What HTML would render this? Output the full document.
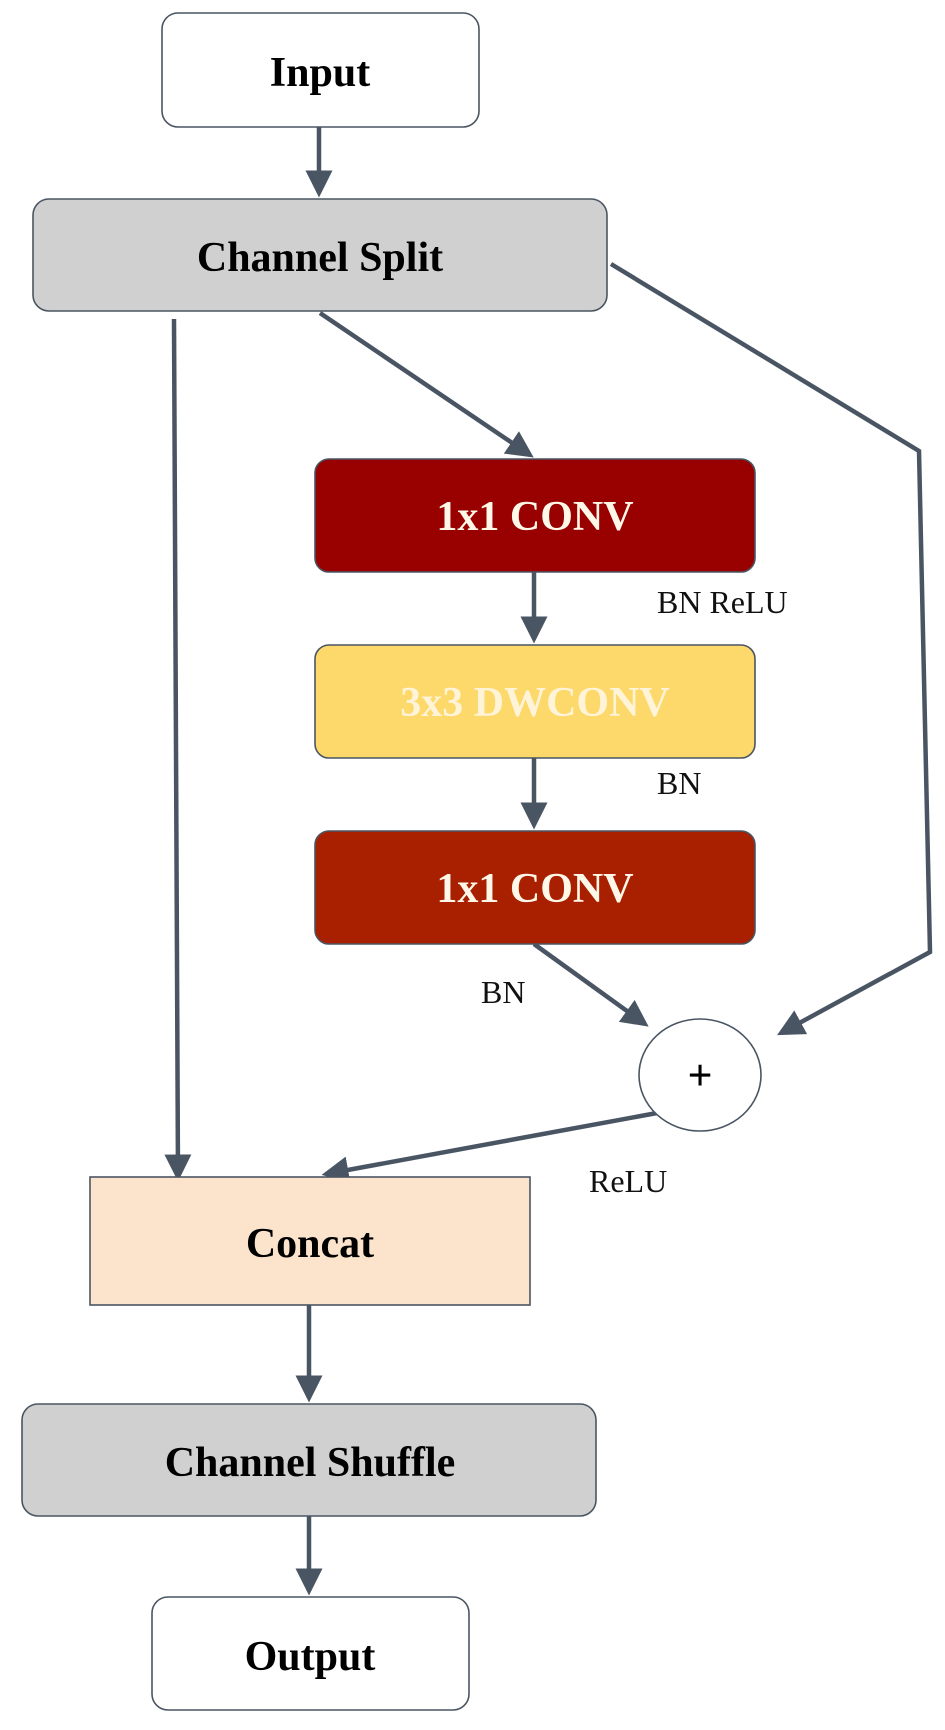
<!DOCTYPE html>
<html><head><meta charset="utf-8"><style>
html,body{margin:0;padding:0;background:#fff;}
svg{display:block;}
text{font-family:"Liberation Serif",serif;}
</style></head><body>
<svg width="945" height="1730" viewBox="0 0 945 1730" xmlns="http://www.w3.org/2000/svg">
<defs>
<marker id="a" markerWidth="6" markerHeight="6" refX="5" refY="3" orient="auto" markerUnits="strokeWidth">
<path d="M0,0 L6,3 L0,6 Z" fill="#4a5563"/>
</marker>
</defs>
<g stroke="#4a5563" stroke-width="4.5" fill="none">
<line x1="319" y1="127" x2="319" y2="193" marker-end="url(#a)"/>
<line x1="320" y1="313" x2="530" y2="455" marker-end="url(#a)"/>
<polyline points="611,264 919,451 930,952 781,1033" marker-end="url(#a)"/>
<line x1="174" y1="319" x2="178" y2="1177" marker-end="url(#a)"/>
<line x1="534" y1="572" x2="534" y2="639" marker-end="url(#a)"/>
<line x1="534" y1="758" x2="534" y2="825" marker-end="url(#a)"/>
<line x1="534" y1="944" x2="645" y2="1024" marker-end="url(#a)"/>
<line x1="657" y1="1113" x2="326" y2="1174" marker-end="url(#a)"/>
<line x1="309" y1="1305" x2="309" y2="1398" marker-end="url(#a)"/>
<line x1="309" y1="1516" x2="309" y2="1591" marker-end="url(#a)"/>
</g>
<g stroke="#4a5563" stroke-width="1.6">
<rect x="162" y="13" width="317" height="114" rx="16" fill="#fff"/>
<rect x="33" y="199" width="574" height="112" rx="16" fill="#d0d0d0"/>
<rect x="315" y="459" width="440" height="113" rx="14" fill="#990000"/>
<rect x="315" y="645" width="440" height="113" rx="14" fill="#fdd96b"/>
<rect x="315" y="831" width="440" height="113" rx="14" fill="#a82000"/>
<ellipse cx="700" cy="1075" rx="61" ry="56" fill="#fff"/>
<rect x="90" y="1177" width="440" height="128" fill="#fce4cc"/>
<rect x="22" y="1404" width="574" height="112" rx="16" fill="#d0d0d0"/>
<rect x="152" y="1597" width="317" height="113" rx="16" fill="#fff"/>
</g>
<g font-weight="bold" font-size="42" text-anchor="middle" fill="#000">
<text x="320" y="86">Input</text>
<text x="320" y="271">Channel Split</text>
<text x="535" y="530" fill="#fff8e8">1x1 CONV</text>
<text x="535" y="716" fill="#fff3d8">3x3 DWCONV</text>
<text x="535" y="902" fill="#fff8e8">1x1 CONV</text>
<text x="700" y="1090" font-size="44">+</text>
<text x="310" y="1257">Concat</text>
<text x="310" y="1476">Channel Shuffle</text>
<text x="310" y="1670">Output</text>
</g>
<g font-size="32" fill="#111">
<text x="657" y="613">BN ReLU</text>
<text x="657" y="794">BN</text>
<text x="481" y="1003">BN</text>
<text x="589" y="1192">ReLU</text>
</g>
</svg>
</body></html>
